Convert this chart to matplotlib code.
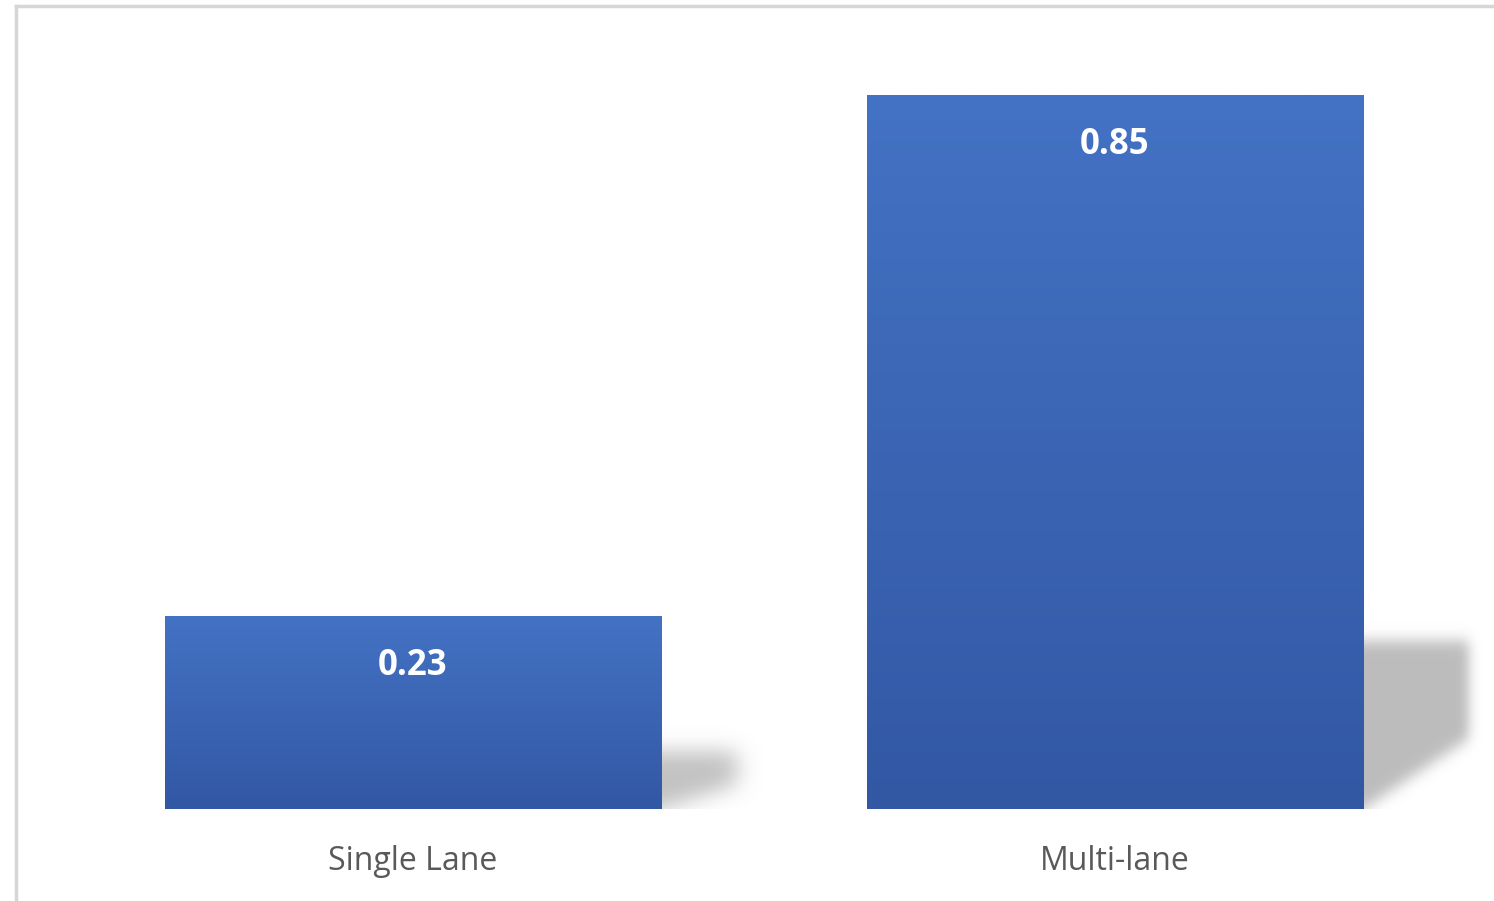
import numpy as np
import matplotlib.pyplot as plt
from matplotlib.lines import Line2D

plt.rcParams.update({'font.family': ['Open Sans', 'DejaVu Sans']})

categories = ['Single Lane', 'Multi-lane']
values = [0.23, 0.85]
value_labels = ['0.23', '0.85']

top_color = np.array([68, 114, 196]) / 255.0
bot_color = np.array([50, 88, 164]) / 255.0
shadow_gray = np.array([0.74, 0.74, 0.74])
width = 0.707

fig = plt.figure(figsize=(14.94, 9.01), dpi=100)
fig.patch.set_facecolor('white')
ax = fig.add_axes([15 / 1494, 92 / 901, 1479 / 1494, 801 / 901])
ax.set_xlim(-0.567, 1.540)
ax.set_ylim(0, 0.9536)
ax.axis('off')

# frame of the chart area (only top and left visible)
fig.add_artist(Line2D([16 / 1494, 1], [1 - 6 / 901, 1 - 6 / 901], color='#d6d6d6', lw=2.5))
fig.add_artist(Line2D([16 / 1494, 16 / 1494], [0, 1 - 6 / 901], color='#d6d6d6', lw=2.5))


def blur(a, r):
    k = np.exp(-0.5 * (np.arange(-3 * r, 3 * r + 1) / r) ** 2)
    k /= k.sum()
    a = np.apply_along_axis(lambda m: np.convolve(m, k, mode='same'), 0, a)
    a = np.apply_along_axis(lambda m: np.convolve(m, k, mode='same'), 1, a)
    return a


# soft shadows behind the bars
for i, v in enumerate(values):
    xr = i + width / 2
    hs = min(0.2, 0.3 * v)
    dx = min(0.15, 0.47 * v)
    x0, x1 = xr - 0.06, xr + dx + 0.12
    y0, y1 = -0.05, hs + 0.1
    nx, ny = 400, 400
    xs = np.linspace(x0, x1, nx)
    ys = np.linspace(y1, y0, ny)
    X, Y = np.meshgrid(xs, ys)
    u = (X - xr) / dx
    lower = hs * 0.42 * u
    mask = ((u >= -0.4) & (u <= 1) & (Y <= hs) & (Y >= lower)).astype(float)
    r = 10 if v > 0.5 else 22
    m = blur(mask, r)
    img = np.zeros((ny, nx, 4))
    img[..., :3] = shadow_gray
    img[..., 3] = np.clip(m * (1.0 if v > 0.5 else 0.9), 0, 1)
    ax.imshow(img, extent=[x0, x1, y0, y1], aspect='auto', zorder=1, interpolation='bilinear')

bars = ax.bar(range(len(values)), values, width=width, color='none', zorder=2)

# vertical gradient fill in each bar
for b, v in zip(bars, values):
    t = np.linspace(0, 1, 256)[:, None]
    grad = (top_color * (1 - t) + bot_color * t).reshape(256, 1, 3)
    x, y = b.get_x(), b.get_y()
    im = ax.imshow(grad, extent=[x, x + b.get_width(), y, y + b.get_height()],
                   aspect='auto', zorder=3, interpolation='bilinear')
    im.set_clip_path(b)

for i, (v, lab) in enumerate(zip(values, value_labels)):
    ax.annotate(lab, xy=(i, v), xytext=(0, -36), textcoords='offset points',
                ha='center', va='center', color='white', fontsize=25,
                fontweight='bold', zorder=4)
    ax.annotate(categories[i], xy=(i, 0), xytext=(0, -37.5), textcoords='offset points',
                ha='center', va='center', color='#595959', fontsize=23,
                zorder=4, annotation_clip=False)

plt.savefig('out.png', dpi=100, facecolor='white')
